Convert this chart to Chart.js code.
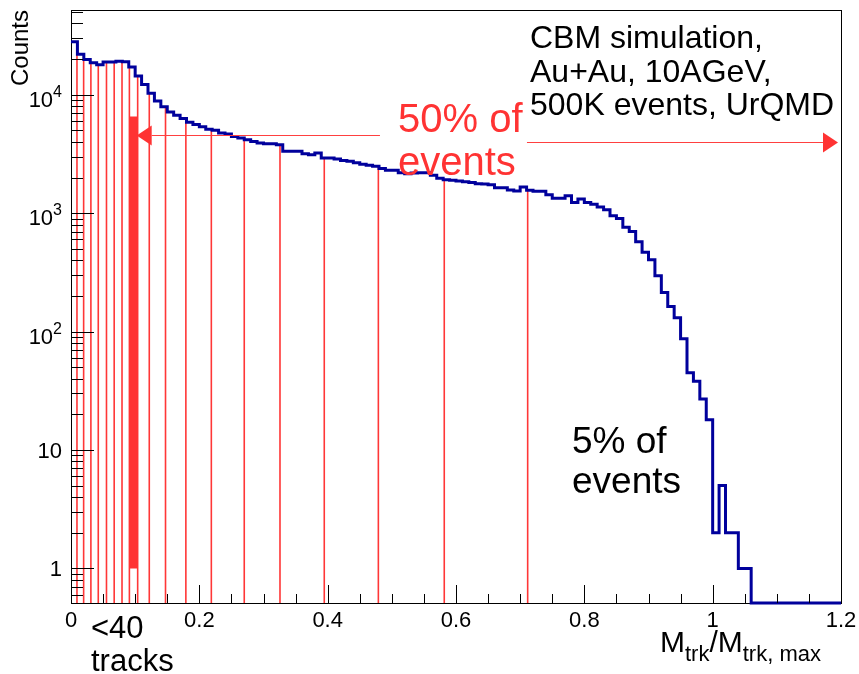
<!DOCTYPE html>
<html lang="en">

<head>
  <meta charset="UTF-8">
  <title>CBM simulation | Mtrk/Mtrk,max</title>
  <script src="https://cdn.jsdelivr.net/npm/chart.js"></script>
  <style>
    html, body { margin: 0; padding: 0; background: #fff; }
    canvas { display: block; }
  </style>
</head>

<body>
  <canvas id="grafico" width="859" height="674"></canvas>

  <script>
    // histograma: contagens por bin de Mtrk/Mtrk,max (bins de 0.01, de 0 a 1.2)
    const binWidth = 0.01;
    const counts = [
      28100, 22000, 19900, 18600, 17900, 18900, 18900, 19200, 19000, 17200,
      14400, 12200, 10300, 8870, 7930, 7170, 6730, 6310, 5870, 5610,
      5370, 5120, 5020, 4750, 4670, 4450, 4320, 4170, 4040, 3920,
      3860, 3860, 3790, 3330, 3330, 3330, 3180, 3120, 3220, 2920,
      2920, 2870, 2790, 2740, 2670, 2590, 2540, 2490, 2380, 2300,
      2300, 2200, 2150, 2180, 2200, 2200, 2090, 1970, 1920, 1900,
      1870, 1840, 1820, 1770, 1760, 1740, 1640, 1640, 1570, 1540,
      1660, 1560, 1530, 1530, 1430, 1340, 1340, 1400, 1230, 1320,
      1230, 1190, 1130, 1070, 950, 900, 760, 700, 573, 467,
      404, 296, 214, 163, 131, 87, 45, 38, 27, 18,
      2, 5, 2, 2, 1, 1, 0, 0, 0, 0,
      0, 0, 0, 0, 0, 0, 0, 0, 0, 0
    ];

    // eixos
    const xMin = 0, xMax = 1.2;
    const yMin = 0.51, yMax = 52000;
    const xTickValues = [0, 0.2, 0.4, 0.6, 0.8, 1.0, 1.2];
    const xTickLabels = ['0', '0.2', '0.4', '0.6', '0.8', '1', '1.2'];
    const yTickExponents = [0, 1, 2, 3, 4];

    // linhas vermelhas (cortes de centralidade)
    const cutPositions = [0.0093, 0.0197, 0.0310, 0.0425, 0.0553, 0.0673, 0.0795, 0.0910, 0.1039,
      0.1220, 0.1473, 0.1790, 0.2187, 0.2700, 0.3257, 0.3947, 0.4790, 0.5817, 0.7117];

    // bloco "<40 tracks"
    const blockX = [0.0910, 0.1039];
    const blockY = [1.0, 6560];

    // setas
    const arrowFrom = [0.4815, 0.7106];
    const arrowTo = [0.1024, 1.1953];
    const arrowLevel = [4540, 3960];

    const fonte = '"Liberation Sans", Arial, Helvetica, sans-serif';

    function contagemEm(x) {
      const i = Math.min(counts.length - 1, Math.floor(x / binWidth));
      return counts[i];
    }

    // pontos do histograma (degraus)
    const histPontos = [];
    for (let i = 0; i < counts.length; i++) {
      histPontos.push({ x: i * binWidth, y: Math.max(counts[i], yMin) });
    }
    histPontos.push({ x: xMax, y: Math.max(counts[counts.length - 1], yMin) });

    // linhas de corte: base ate o histograma
    const cortePontos = [];
    for (let i = 0; i < cutPositions.length; i++) {
      const cx = cutPositions[i];
      cortePontos.push({ x: cx, y: yMin });
      cortePontos.push({ x: cx, y: contagemEm(cx) });
      cortePontos.push({ x: cx, y: null });
    }

    const blocoPontos = [
      { x: blockX[0], y: blockY[0] },
      { x: blockX[0], y: blockY[1] },
      { x: blockX[1], y: blockY[1] },
      { x: blockX[1], y: blockY[0] },
      { x: blockX[0], y: blockY[0] }
    ];

    function texto(ctx, s, x, y, tam, cor, align) {
      ctx.font = tam + 'px ' + fonte;
      ctx.fillStyle = cor || '#000';
      ctx.textAlign = align || 'left';
      ctx.textBaseline = 'alphabetic';
      ctx.fillText(s, x, y);
    }

    const eixos = {
      id: 'eixos',
      beforeDatasetsDraw(chart) {
        const ctx = chart.ctx, a = chart.chartArea;
        ctx.save();
        ctx.strokeStyle = '#000';
        ctx.lineWidth = 1;
        ctx.strokeRect(a.left + 0.5, a.top + 0.5, a.right - a.left, a.bottom - a.top);
        ctx.restore();
      },
      afterDatasetsDraw(chart) {
        const ctx = chart.ctx, a = chart.chartArea;
        const sx = chart.scales.x, sy = chart.scales.y;
        ctx.save();

        // setas
        for (let i = 0; i < arrowFrom.length; i++) {
          const x0 = sx.getPixelForValue(arrowFrom[i]);
          const x1 = sx.getPixelForValue(arrowTo[i]);
          const py = Math.round(sy.getPixelForValue(arrowLevel[i])) + 0.5;
          const dir = x1 > x0 ? 1 : -1;
          const cab = 15, meia = 10;
          ctx.strokeStyle = '#ff4040';
          ctx.lineWidth = 1;
          ctx.beginPath();
          ctx.moveTo(x0, py);
          ctx.lineTo(x1 - dir * cab, py);
          ctx.stroke();
          ctx.fillStyle = '#ff3333';
          ctx.beginPath();
          ctx.moveTo(x1, py);
          ctx.lineTo(x1 - dir * cab, py - meia);
          ctx.lineTo(x1 - dir * cab, py + meia);
          ctx.closePath();
          ctx.fill();
        }

        // marcas do eixo x
        ctx.strokeStyle = '#000';
        ctx.lineWidth = 1;
        ctx.beginPath();
        for (let i = 0; i <= 24; i++) {
          const px = Math.round(sx.getPixelForValue(i * 0.05)) + 0.5;
          const len = i % 4 === 0 ? 18 : 9;
          ctx.moveTo(px, a.bottom);
          ctx.lineTo(px, a.bottom - len);
        }
        // marcas do eixo y (log)
        for (let e = -1; e <= 4; e++) {
          for (let m = 1; m <= 9; m++) {
            const v = m * Math.pow(10, e);
            if (v < yMin || v > yMax) continue;
            const py = Math.round(sy.getPixelForValue(v)) + 0.5;
            const len = m === 1 ? 23 : 12;
            ctx.moveTo(a.left, py);
            ctx.lineTo(a.left + len, py);
          }
        }
        ctx.stroke();

        // rotulos x
        for (let i = 0; i < xTickValues.length; i++) {
          texto(ctx, xTickLabels[i], sx.getPixelForValue(xTickValues[i]), 627, 22, '#000', 'center');
        }
        // rotulos y
        for (let i = 0; i < yTickExponents.length; i++) {
          const e = yTickExponents[i];
          const py = sy.getPixelForValue(Math.pow(10, e));
          if (e === 0) {
            texto(ctx, '1', 62, py + 8, 22, '#000', 'right');
          } else if (e === 1) {
            texto(ctx, '10', 62, py + 8, 22, '#000', 'right');
          } else {
            ctx.font = '16px ' + fonte;
            const w = ctx.measureText(String(e)).width;
            texto(ctx, String(e), 62, py + 2, 16, '#000', 'right');
            texto(ctx, '10', 62 - w, py + 12, 22, '#000', 'right');
          }
        }
        ctx.restore();
      },
      afterDraw(chart) {
        const ctx = chart.ctx;
        ctx.save();
        // titulo y
        ctx.translate(28, 10);
        ctx.rotate(-Math.PI / 2);
        texto(ctx, 'Counts', 0, 0, 24, '#000', 'right');
        ctx.restore();

        ctx.save();
        // titulo x: M_trk / M_trk, max
        let x = 660;
        const partes = [['M', 0, 30], ['trk', 9, 22], ['/M', 0, 30], ['trk, max', 9, 22]];
        for (let i = 0; i < partes.length; i++) {
          texto(ctx, partes[i][0], x, 652 + partes[i][1], partes[i][2], '#000', 'left');
          x += ctx.measureText(partes[i][0]).width;
        }

        texto(ctx, 'CBM simulation,', 530, 48, 32);
        texto(ctx, 'Au+Au, 10AGeV,', 530, 82, 32);
        texto(ctx, '500K events, UrQMD', 530, 115, 32);

        texto(ctx, '50% of', 398, 132, 40, '#ff3333');
        texto(ctx, 'events', 398, 175, 40, '#ff3333');

        texto(ctx, '5% of', 572, 453, 37);
        texto(ctx, 'events', 572, 493, 37);

        texto(ctx, '<40', 91, 638, 31);
        texto(ctx, 'tracks', 91, 671, 31);
        ctx.restore();
      }
    };

    const ctx = document.getElementById('grafico').getContext('2d');
    const grafico = new Chart(ctx, {
      type: 'scatter',
      data: {
        datasets: [
          {
            label: 'Mtrk',
            data: histPontos,
            showLine: true,
            stepped: 'before',
            borderColor: '#00009c',
            borderWidth: 3,
            pointRadius: 0,
            fill: false,
            clip: false,
            order: 0
          },
          {
            label: '<40 tracks',
            data: blocoPontos,
            showLine: true,
            borderWidth: 0,
            borderColor: 'rgba(0,0,0,0)',
            backgroundColor: '#ff3333',
            fill: 'shape',
            pointRadius: 0,
            order: 1
          },
          {
            label: 'cortes',
            data: cortePontos,
            showLine: true,
            spanGaps: false,
            borderColor: 'rgba(255,20,20,0.85)',
            borderWidth: 1.6,
            pointRadius: 0,
            fill: false,
            order: 2
          }
        ]
      },
      options: {
        responsive: false,
        animation: false,
        devicePixelRatio: 1,
        layout: { padding: { left: 71, right: 18, top: 10, bottom: 71 } },
        plugins: {
          legend: { display: false },
          tooltip: { enabled: false }
        },
        scales: {
          x: { type: 'linear', min: xMin, max: xMax, display: false },
          y: { type: 'logarithmic', min: yMin, max: yMax, display: false }
        }
      },
      plugins: [eixos]
    });
  </script>

</body>

</html>
